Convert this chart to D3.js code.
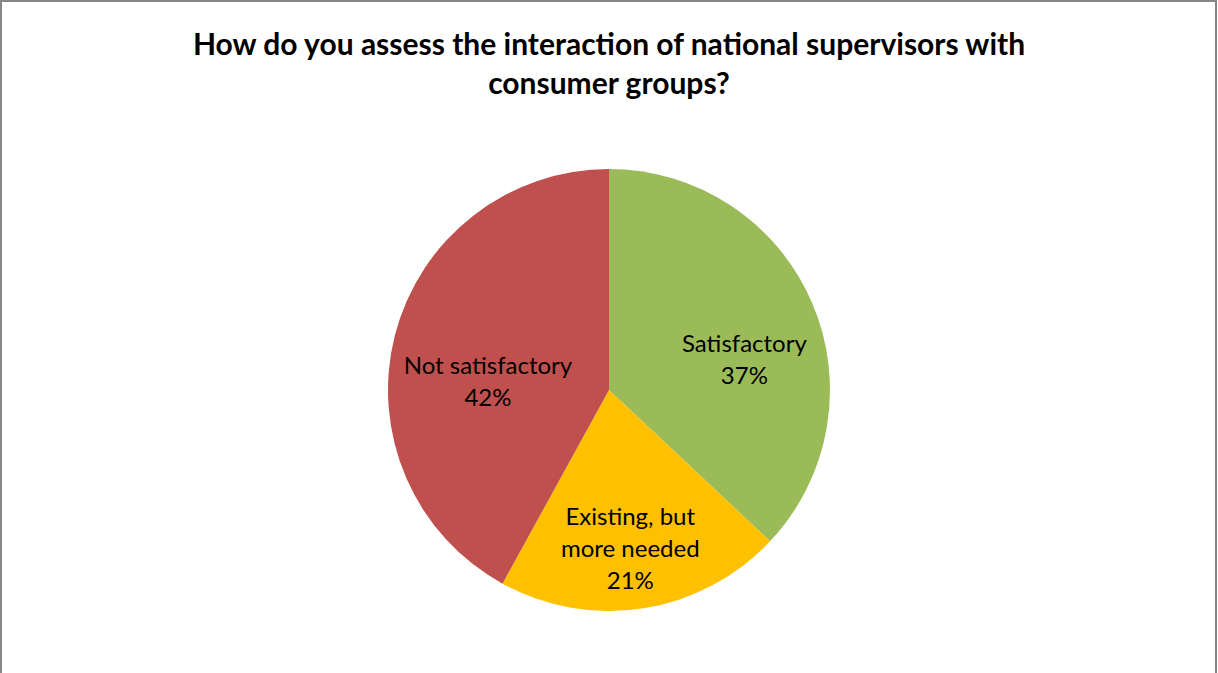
<!DOCTYPE html>
<html>
<head>
<meta charset="utf-8">
<script src="https://cdn.jsdelivr.net/npm/d3@7/dist/d3.min.js"></script>
<style>
  html, body { margin: 0; padding: 0; background: #fff; }
  svg { display: block; }
</style>
</head>
<body>
<svg id="chart" width="1218" height="673"></svg>
<script>
// Survey answers, share of respondents in percent
const categories = ["Satisfactory", "Existing, but more needed", "Not satisfactory"];
const values = [37, 21, 42];
const labelLines = [["Satisfactory"], ["Existing, but", "more needed"], ["Not satisfactory"]];
const colors = ["#9BBB59", "#FFC000", "#C0504D"];
const titleLines = ["How do you assess the interaction of national supervisors with", "consumer groups?"];

const W = 1218, H = 673;
const svg = d3.select("#chart");

// outer frame
svg.append("rect")
  .attr("x", 1).attr("y", 1)
  .attr("width", W - 3).attr("height", H + 10)
  .attr("fill", "#fff")
  .attr("stroke", "#868686").attr("stroke-width", 2);

// title
const title = svg.append("text")
  .attr("text-anchor", "middle")
  .attr("font-family", "Lato, 'Open Sans', sans-serif")
  .attr("font-weight", "bold")
  .attr("font-size", 30)
  .attr("fill", "#000");
titleLines.forEach((t, i) => {
  title.append("tspan").attr("x", 609).attr("y", 55 + i * 39).text(t);
});

// pie
const cx = 609, cy = 390, R = 221;
const pie = d3.pie().sort(null).value(d => d)(values);
const arc = d3.arc().innerRadius(0).outerRadius(R);

const g = svg.append("g").attr("transform", `translate(${cx},${cy})`);
g.selectAll("path")
  .data(pie)
  .join("path")
  .attr("d", arc)
  .attr("fill", (d, i) => colors[i]);

// data labels: category name and percentage, placed inside the slices
const labelOffsets = [[34, 14], [4, 50], [-14, 19]];
const lineGap = 32;
g.selectAll("text.lbl")
  .data(pie)
  .join("text")
  .attr("class", "lbl")
  .attr("text-anchor", "middle")
  .attr("font-family", "Lato, 'Open Sans', sans-serif")
  .attr("font-size", 24)
  .attr("fill", "#000")
  .each(function (d, i) {
    const c = arc.centroid(d);
    const x = c[0] + labelOffsets[i][0];
    const lines = labelLines[i].concat([d.data + "%"]);
    const y0 = c[1] + labelOffsets[i][1] - (lines.length - 1) * lineGap / 2 + 8;
    const t = d3.select(this);
    lines.forEach((s, k) => {
      t.append("tspan").attr("x", x).attr("y", y0 + k * lineGap).text(s);
    });
  });
</script>
</body>
</html>
